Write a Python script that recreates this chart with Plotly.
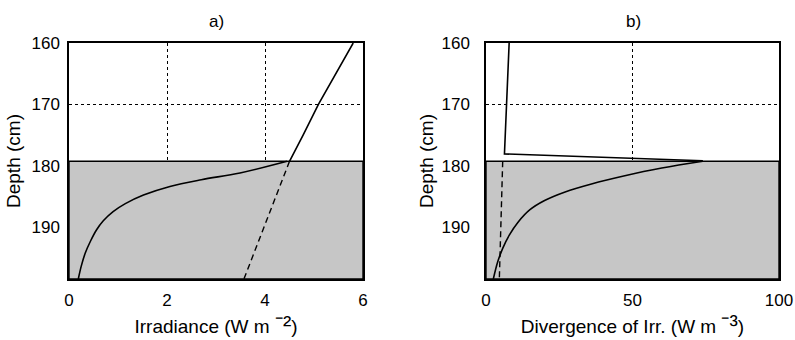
import plotly.graph_objects as go

# Panel a: irradiance
a_air_x = [5.80, 5.45, 5.09, 4.78, 4.50]
a_air_y = [160.0, 165.0, 170.0, 175.0, 179.3]
a_ice_x = [4.45, 3.49, 2.70, 2.06, 1.52, 1.15, 0.90, 0.70, 0.56, 0.44, 0.33, 0.25, 0.19]
a_ice_y = [179.3, 181.2, 182.3, 183.4, 184.8, 186.2, 187.5, 189.0, 190.5, 192.3, 194.3, 196.4, 198.5]
a_dash_x = [4.50, 3.57]
a_dash_y = [179.3, 198.5]

# Panel b: divergence of irradiance
b_air_x = [7.9, 6.3, 74.0]
b_air_y = [160.0, 178.1, 179.2]
b_ice_x = [74.0, 60.0, 47.0, 36.0, 27.0, 20.0, 15.0, 11.0, 8.0, 5.7, 4.0, 2.5]
b_ice_y = [179.3, 180.4, 181.7, 183.0, 184.3, 185.7, 187.2, 189.2, 191.3, 193.5, 195.7, 198.5]
b_dash_x = [5.7, 4.55]
b_dash_y = [179.3, 198.5]

ice_top = 179.3
depth_bottom = 198.5
depth_ticks = [160, 170, 180, 190]
a_xticks = [0, 2, 4, 6]
b_xticks = [0, 50, 100]

FONT = "Liberation Sans, Arial, Helvetica, sans-serif"
shade = "#c6c6c6"
line = dict(color="black", width=1.6)

fig = go.Figure()

def panel(xa, ya, xmax, air_x, air_y, ice_x, ice_y, dx, dy):
    fig.add_trace(go.Scatter(x=[0, xmax, xmax, 0, 0],
                             y=[ice_top, ice_top, depth_bottom, depth_bottom, ice_top],
                             mode="lines", fill="toself", fillcolor=shade,
                             line=dict(color="black", width=1.4),
                             xaxis=xa, yaxis=ya, showlegend=False, hoverinfo="skip"))
    fig.add_trace(go.Scatter(x=air_x, y=air_y, mode="lines", line=line,
                             xaxis=xa, yaxis=ya, showlegend=False))
    fig.add_trace(go.Scatter(x=ice_x, y=ice_y, mode="lines",
                             line=dict(line, shape="spline", smoothing=1.0),
                             xaxis=xa, yaxis=ya, showlegend=False))
    fig.add_trace(go.Scatter(x=dx, y=dy, mode="lines",
                             line=dict(color="black", width=1.4, dash="6px,4px"),
                             xaxis=xa, yaxis=ya, showlegend=False))

panel("x", "y", 6, a_air_x, a_air_y, a_ice_x, a_ice_y, a_dash_x, a_dash_y)
panel("x2", "y2", 100, b_air_x, b_air_y, b_ice_x, b_ice_y, b_dash_x, b_dash_y)

ax_common = dict(showline=True, mirror=True, linecolor="black", linewidth=1.5,
                 showgrid=True, gridcolor="black", gridwidth=1, griddash="dot",
                 zeroline=False, ticks="", automargin=False,
                 tickfont=dict(family=FONT, size=17, color="black"))
title_font = dict(family=FONT, size=19, color="black")
sup = "<span style='font-size:25px'>{}</span>"

y0, y1 = 1 - 279 / 340, 1 - 43 / 340
fig.update_layout(
    width=795, height=340, margin=dict(l=0, r=0, t=0, b=0),
    paper_bgcolor="white", plot_bgcolor="white",
    font=dict(family=FONT, color="black"),
    xaxis=dict(ax_common, domain=[69 / 795, 363 / 795], range=[0, 6],
               tickvals=a_xticks, anchor="y", ticklabelstandoff=5,
               title=dict(text="Irradiance (W m " + sup.format("⁻²") + ")", font=title_font, standoff=9)),
    yaxis=dict(ax_common, domain=[y0, y1], range=[depth_bottom, 160],
               tickvals=depth_ticks, anchor="x", ticklabelstandoff=4,
               title=dict(text="Depth (cm)", font=title_font, standoff=6)),
    xaxis2=dict(ax_common, domain=[486 / 795, 779 / 795], range=[0, 100],
                tickvals=b_xticks, anchor="y2", ticklabelstandoff=5,
                title=dict(text="Divergence of Irr. (W m " + sup.format("⁻³") + ")", font=title_font, standoff=9)),
    yaxis2=dict(ax_common, domain=[y0, y1], range=[depth_bottom, 160],
                tickvals=depth_ticks, anchor="x2", ticklabelstandoff=11,
                title=dict(text="Depth (cm)", font=title_font, standoff=3)),
)

for txt, xc in [("a)", 216), ("b)", 633)]:
    fig.add_annotation(text=txt, x=xc / 795, y=1 - 22 / 340, xref="paper", yref="paper",
                       showarrow=False, xanchor="center", yanchor="middle",
                       font=dict(family=FONT, size=17, color="black"))

fig.write_html("out.html")
